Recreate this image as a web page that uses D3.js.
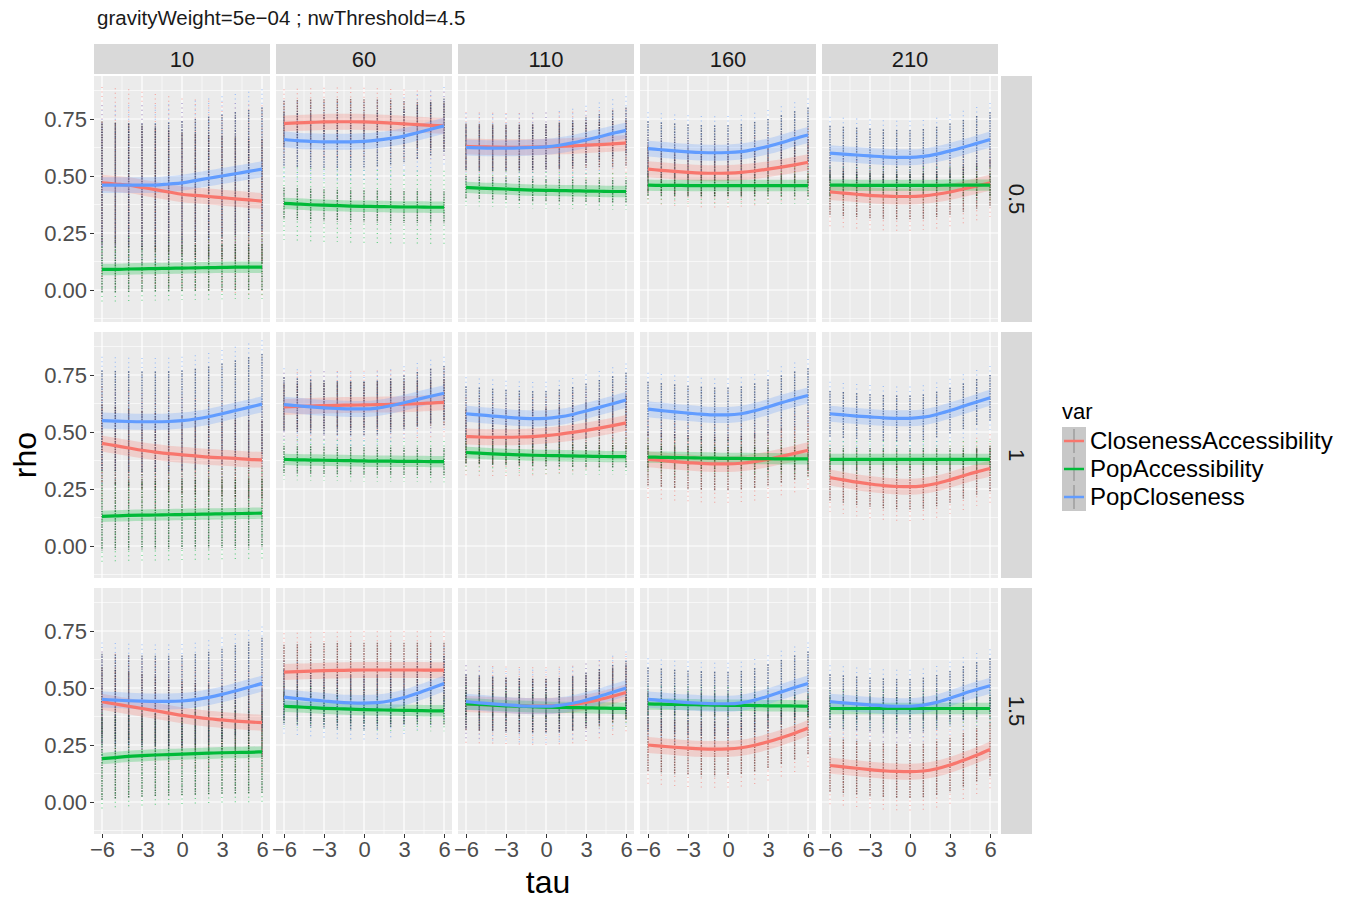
<!DOCTYPE html>
<html><head><meta charset="utf-8">
<script src="https://cdn.jsdelivr.net/npm/d3@7"></script>
<style>body{margin:0;background:#fff;} text{font-family:"Liberation Sans",Arial,Helvetica,sans-serif;}</style>
</head><body><svg id="c" width="1349" height="899"></svg>
<script>
const title = "gravityWeight=5e\u221204 ; nwThreshold=4.5";
const colLabels = ["10","60","110","160","210"];
const rowLabels = ["0.5","1","1.5"];
const taus = [-6,-5,-4,-3,-2,-1,0,1,2,3,4,5,6];
const xTicks = [-6,-3,0,3,6];
const yTicks = [0,0.25,0.5,0.75];
const varNames = ["ClosenessAccessibility","PopAccessibility","PopCloseness"];
const varColors = ["#F8766D","#00BA38","#619CFF"];

// smoothed rho per tau: [row][col][13]
const closenessAccessibility = [
 [[0.47,0.465,0.46,0.45,0.44,0.43,0.42,0.415,0.41,0.405,0.40,0.395,0.39],
  [0.73,0.733,0.735,0.737,0.738,0.738,0.737,0.735,0.732,0.729,0.725,0.722,0.72],
  [0.63,0.628,0.627,0.626,0.626,0.627,0.628,0.63,0.632,0.635,0.638,0.641,0.645],
  [0.53,0.525,0.52,0.516,0.513,0.512,0.513,0.516,0.522,0.53,0.539,0.549,0.56],
  [0.43,0.425,0.42,0.415,0.412,0.41,0.41,0.413,0.42,0.43,0.443,0.456,0.47]],
 [[0.45,0.44,0.43,0.42,0.412,0.405,0.40,0.395,0.39,0.387,0.384,0.38,0.378],
  [0.61,0.612,0.614,0.616,0.617,0.618,0.619,0.62,0.621,0.622,0.624,0.627,0.63],
  [0.48,0.478,0.477,0.477,0.478,0.48,0.484,0.49,0.498,0.507,0.517,0.528,0.54],
  [0.38,0.375,0.37,0.366,0.362,0.36,0.36,0.363,0.37,0.38,0.393,0.406,0.42],
  [0.30,0.29,0.28,0.272,0.265,0.261,0.26,0.264,0.274,0.29,0.308,0.325,0.34]],
 [[0.44,0.43,0.42,0.41,0.40,0.39,0.38,0.372,0.365,0.36,0.355,0.351,0.348],
  [0.57,0.572,0.574,0.576,0.577,0.578,0.579,0.579,0.579,0.579,0.579,0.578,0.578],
  [0.43,0.428,0.426,0.424,0.422,0.421,0.421,0.423,0.428,0.437,0.449,0.464,0.48],
  [0.25,0.245,0.24,0.236,0.233,0.232,0.233,0.238,0.249,0.264,0.282,0.302,0.325],
  [0.16,0.154,0.148,0.142,0.137,0.134,0.133,0.136,0.146,0.162,0.183,0.205,0.23]]
];
const popAccessibility = [
 [[0.09,0.09,0.092,0.093,0.094,0.095,0.096,0.097,0.098,0.099,0.10,0.10,0.10],
  [0.38,0.377,0.374,0.372,0.37,0.368,0.367,0.366,0.365,0.364,0.364,0.363,0.363],
  [0.45,0.447,0.445,0.443,0.44,0.438,0.437,0.436,0.435,0.434,0.433,0.432,0.432],
  [0.46,0.459,0.459,0.458,0.458,0.458,0.458,0.458,0.458,0.458,0.458,0.458,0.458],
  [0.46,0.46,0.459,0.459,0.459,0.459,0.459,0.459,0.459,0.46,0.46,0.46,0.46]],
 [[0.13,0.132,0.134,0.135,0.136,0.137,0.138,0.139,0.14,0.141,0.142,0.143,0.144],
  [0.38,0.378,0.377,0.376,0.375,0.374,0.373,0.372,0.372,0.371,0.371,0.37,0.37],
  [0.41,0.407,0.404,0.402,0.40,0.398,0.397,0.396,0.395,0.394,0.393,0.392,0.392],
  [0.39,0.389,0.388,0.387,0.386,0.385,0.384,0.384,0.383,0.383,0.382,0.382,0.382],
  [0.38,0.38,0.38,0.38,0.38,0.38,0.38,0.38,0.38,0.38,0.38,0.38,0.38]],
 [[0.19,0.195,0.2,0.203,0.206,0.208,0.21,0.212,0.214,0.216,0.217,0.218,0.22],
  [0.42,0.417,0.414,0.411,0.409,0.407,0.405,0.404,0.403,0.402,0.401,0.40,0.40],
  [0.43,0.428,0.425,0.422,0.42,0.418,0.416,0.415,0.414,0.413,0.412,0.411,0.41],
  [0.43,0.429,0.428,0.427,0.426,0.425,0.424,0.424,0.423,0.422,0.422,0.421,0.42],
  [0.41,0.41,0.41,0.41,0.41,0.41,0.41,0.41,0.41,0.41,0.41,0.41,0.41]]
];
const popCloseness = [
 [[0.46,0.46,0.46,0.46,0.46,0.465,0.47,0.48,0.49,0.50,0.51,0.52,0.53],
  [0.66,0.655,0.652,0.65,0.65,0.65,0.652,0.657,0.665,0.675,0.69,0.705,0.72],
  [0.625,0.623,0.622,0.622,0.623,0.625,0.628,0.635,0.645,0.658,0.672,0.687,0.70],
  [0.62,0.615,0.61,0.606,0.603,0.602,0.603,0.607,0.617,0.63,0.646,0.664,0.68],
  [0.60,0.596,0.592,0.588,0.584,0.582,0.582,0.586,0.596,0.61,0.626,0.643,0.66]],
 [[0.55,0.548,0.546,0.545,0.545,0.546,0.55,0.557,0.567,0.58,0.594,0.608,0.622],
  [0.62,0.615,0.61,0.606,0.603,0.601,0.601,0.605,0.615,0.628,0.643,0.657,0.67],
  [0.58,0.575,0.57,0.565,0.561,0.559,0.56,0.566,0.577,0.592,0.608,0.624,0.64],
  [0.60,0.594,0.588,0.583,0.578,0.575,0.575,0.58,0.593,0.61,0.628,0.645,0.66],
  [0.58,0.575,0.57,0.566,0.562,0.56,0.56,0.565,0.577,0.594,0.613,0.632,0.65]],
 [[0.45,0.447,0.444,0.442,0.441,0.441,0.443,0.449,0.459,0.472,0.487,0.503,0.52],
  [0.46,0.454,0.448,0.443,0.438,0.435,0.434,0.436,0.444,0.458,0.477,0.498,0.52],
  [0.44,0.435,0.43,0.426,0.422,0.42,0.42,0.424,0.433,0.447,0.463,0.481,0.50],
  [0.45,0.445,0.44,0.436,0.433,0.431,0.431,0.435,0.447,0.464,0.483,0.502,0.52],
  [0.44,0.435,0.43,0.426,0.422,0.42,0.42,0.425,0.437,0.455,0.475,0.493,0.51]]
];
// point spread around smooth: [row][col] = [dense half-width, outer half-width]
const spreadCA = [
 [[0.27,0.42],[0.10,0.15],[0.10,0.15],[0.10,0.15],[0.10,0.15]],
 [[0.17,0.25],[0.10,0.15],[0.12,0.17],[0.12,0.17],[0.10,0.15]],
 [[0.15,0.22],[0.12,0.17],[0.12,0.17],[0.12,0.17],[0.12,0.17]]
];
const spreadPA = [
 [[0.10,0.14],[0.07,0.16],[0.05,0.08],[0.05,0.08],[0.05,0.08]],
 [[0.15,0.20],[0.06,0.09],[0.05,0.08],[0.05,0.08],[0.05,0.08]],
 [[0.18,0.22],[0.06,0.09],[0.05,0.08],[0.05,0.08],[0.05,0.08]]
];
const spreadPC = [
 [[0.27,0.35],[0.12,0.17],[0.10,0.15],[0.12,0.16],[0.12,0.16]],
 [[0.22,0.28],[0.12,0.16],[0.12,0.16],[0.12,0.16],[0.10,0.14]],
 [[0.20,0.25],[0.12,0.16],[0.12,0.16],[0.14,0.18],[0.12,0.16]]
];
const ribbonHalf = [0.035,0.025,0.035];

const series = [closenessAccessibility, popAccessibility, popCloseness];
const spreads = [spreadCA, spreadPA, spreadPC];

const svg = d3.select("#c");
const L = {left0:94, pw:176, colStep:182, top0:76, ph:246, rowStep:256};
const x = d3.scaleLinear().domain([-6.6,6.6]).range([0, L.pw]);
const y = d3.scaleLinear().domain([-0.1404,0.9386]).range([L.ph, 0]);
const darkCol = ["#5a2f2c","#174022","#2c3a5c"];

svg.append("text").attr("x",97).attr("y",25).attr("font-size",20.5).attr("fill","#1a1a1a").text(title);

for (let r=0;r<3;r++){
  for (let c=0;c<5;c++){
    const g = svg.append("g").attr("transform",`translate(${L.left0+c*L.colStep},${L.top0+r*L.rowStep})`);
    g.append("rect").attr("width",L.pw).attr("height",L.ph).attr("fill","#EBEBEB");
    const minorY = [-0.125,0.125,0.375,0.625,0.875];
    const minorX = [-4.5,-1.5,1.5,4.5];
    g.selectAll(".my").data(minorY).enter().append("line")
      .attr("x1",0).attr("x2",L.pw).attr("y1",d=>y(d)).attr("y2",d=>y(d)).attr("stroke","#fff").attr("stroke-width",0.6);
    g.selectAll(".mx").data(minorX).enter().append("line")
      .attr("y1",0).attr("y2",L.ph).attr("x1",d=>x(d)).attr("x2",d=>x(d)).attr("stroke","#fff").attr("stroke-width",0.6);
    g.selectAll(".gy").data(yTicks).enter().append("line")
      .attr("x1",0).attr("x2",L.pw).attr("y1",d=>y(d)).attr("y2",d=>y(d)).attr("stroke","#fff").attr("stroke-width",1.2);
    g.selectAll(".gx").data(xTicks).enter().append("line")
      .attr("y1",0).attr("y2",L.ph).attr("x1",d=>x(d)).attr("x2",d=>x(d)).attr("stroke","#fff").attr("stroke-width",1.2);

    for (let v=0; v<3; v++){
      const vals = series[v][r][c];
      const sp = spreads[v][r][c];
      const pts = taus.map((t,i)=>({t, m: vals[i]}));
      g.selectAll(null).data(pts).enter().append("line")
        .attr("x1",d=>x(d.t)).attr("x2",d=>x(d.t))
        .attr("y1",d=>y(d.m+sp[1])).attr("y2",d=>y(d.m-sp[1]))
        .attr("stroke",varColors[v]).attr("stroke-opacity",0.55).attr("stroke-width",1.3)
        .attr("stroke-dasharray","1,3.5");
    }
    for (let v=0; v<3; v++){
      const vals = series[v][r][c];
      const sp = spreads[v][r][c];
      const pts = taus.map((t,i)=>({t, m: vals[i]}));
      g.selectAll(null).data(pts).enter().append("line")
        .attr("x1",d=>x(d.t)).attr("x2",d=>x(d.t))
        .attr("y1",d=>y(d.m+sp[0])).attr("y2",d=>y(d.m-sp[0]))
        .attr("stroke",darkCol[v]).attr("stroke-opacity",0.65).attr("stroke-width",1.4)
        .attr("stroke-dasharray","1.6,1");
    }
    for (let v=0; v<3; v++){
      const vals = series[v][r][c];
      const pts = taus.map((t,i)=>({t, m: vals[i]}));
      const area = d3.area().x(d=>x(d.t)).y0(d=>y(d.m-ribbonHalf[v])).y1(d=>y(d.m+ribbonHalf[v])).curve(d3.curveMonotoneX);
      g.append("path").datum(pts).attr("d",area).attr("fill",varColors[v]).attr("fill-opacity",0.25);
    }
    for (let v=0; v<3; v++){
      const vals = series[v][r][c];
      const pts = taus.map((t,i)=>({t, m: vals[i]}));
      const line = d3.line().x(d=>x(d.t)).y(d=>y(d.m)).curve(d3.curveMonotoneX);
      g.append("path").datum(pts).attr("d",line).attr("fill","none").attr("stroke",varColors[v]).attr("stroke-width",3.2);
    }
  }
}

colLabels.forEach((lab,c)=>{
  const gx = L.left0+c*L.colStep;
  svg.append("rect").attr("x",gx).attr("y",44).attr("width",L.pw).attr("height",30).attr("fill","#D9D9D9");
  svg.append("text").attr("x",gx+L.pw/2).attr("y",67).attr("text-anchor","middle").attr("font-size",22).attr("fill","#1a1a1a").text(lab);
});
rowLabels.forEach((lab,r)=>{
  const gy = L.top0+r*L.rowStep;
  const sx = L.left0+4*L.colStep+L.pw+3;
  svg.append("rect").attr("x",sx).attr("y",gy).attr("width",31).attr("height",L.ph).attr("fill","#D9D9D9");
  svg.append("text").attr("transform",`translate(${sx+8},${gy+L.ph/2}) rotate(90)`).attr("text-anchor","middle").attr("font-size",22).attr("fill","#1a1a1a").text(lab);
});
for (let r=0;r<3;r++){
  const g = svg.append("g").attr("transform",`translate(${L.left0},${L.top0+r*L.rowStep})`);
  const ax = d3.axisLeft(y).tickValues(yTicks).tickFormat(d3.format(".2f")).tickSize(4).tickPadding(3);
  g.call(ax);
  g.select(".domain").remove();
  g.selectAll(".tick line").attr("stroke","#333");
  g.selectAll(".tick text").attr("font-size",22).attr("fill","#4D4D4D").attr("font-family","Liberation Sans, Arial, sans-serif");
}
for (let c=0;c<5;c++){
  const g = svg.append("g").attr("transform",`translate(${L.left0+c*L.colStep},${L.top0+2*L.rowStep+L.ph})`);
  const ax = d3.axisBottom(x).tickValues(xTicks).tickFormat(d=>d<0?"\u2212"+Math.abs(d):String(d)).tickSize(4).tickPadding(3);
  g.call(ax);
  g.select(".domain").remove();
  g.selectAll(".tick line").attr("stroke","#333");
  g.selectAll(".tick text").attr("font-size",22).attr("fill","#4D4D4D").attr("font-family","Liberation Sans, Arial, sans-serif");
}
svg.append("text").attr("x",548).attr("y",893).attr("text-anchor","middle").attr("font-size",32).attr("fill","#000").text("tau");
svg.append("text").attr("transform","translate(36,455) rotate(-90)").attr("text-anchor","middle").attr("font-size",32).attr("fill","#000").text("rho");

const lg = svg.append("g").attr("transform","translate(1062,0)");
lg.append("text").attr("x",0).attr("y",419).attr("font-size",22).attr("fill","#000").text("var");
varNames.forEach((n,i)=>{
  const cy = 441+i*28;
  lg.append("rect").attr("x",0).attr("y",cy-14).attr("width",24).attr("height",28).attr("fill","#C8C8C8");
  lg.append("line").attr("x1",12).attr("x2",12).attr("y1",cy-12).attr("y2",cy+12).attr("stroke","#888").attr("stroke-width",1);
  lg.append("line").attr("x1",2).attr("x2",22).attr("y1",cy).attr("y2",cy).attr("stroke",varColors[i]).attr("stroke-width",2.5);
  lg.append("text").attr("x",28).attr("y",cy+8).attr("font-size",24).attr("fill","#000").text(n);
});
</script></body></html>
